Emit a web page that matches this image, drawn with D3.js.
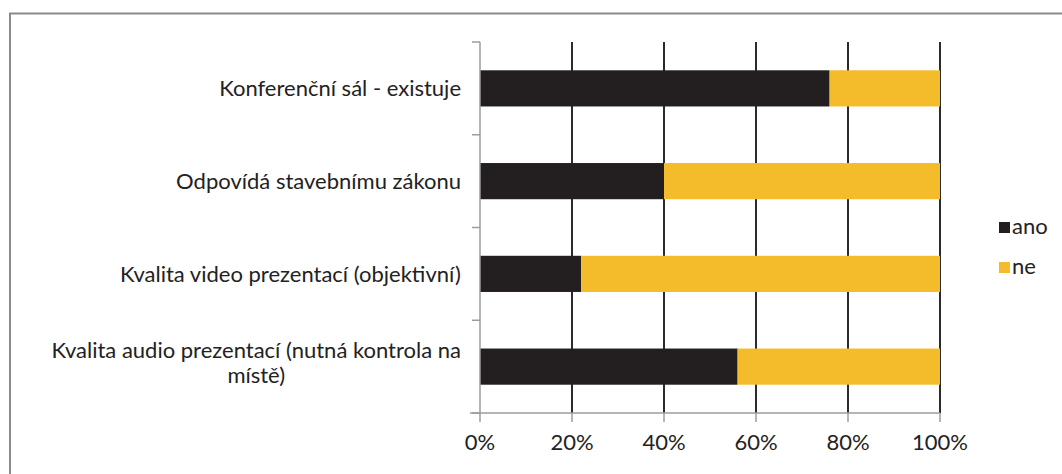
<!DOCTYPE html>
<html>
<head>
<meta charset="utf-8">
<script src="https://cdn.jsdelivr.net/npm/d3@7"></script>
<style>
  body { margin: 0; background: #fff; }
  svg text { font-family: Lato, "Open Sans", sans-serif; fill: #222; }
</style>
</head>
<body>
<div id="chart"></div>
<script>
// data
const categories = [
    "Konferenční sál - existuje",
    "Odpovídá stavebnímu zákonu",
    "Kvalita video prezentací (objektivní)",
    "Kvalita audio prezentací (nutná kontrola na|místě)"
];
const ano = [0.76, 0.40, 0.22, 0.56];
const ne = [0.24, 0.60, 0.78, 0.44];
const seriesNames = ["ano", "ne"];
const seriesColors = ["#231f20", "#f4bc2a"];
const xTicks = [0, 0.2, 0.4, 0.6, 0.8, 1];

const width = 1062, height = 474;
const margin = {top: 42, left: 480, right: 122, bottom: 61};
const fontSize = 22;

const svg = d3.select("#chart").append("svg")
    .attr("width", width)
    .attr("height", height);

// outer frame (cropped on right and bottom)
svg.append("path")
    .attr("d", "M10," + (height + 5) + "V13.5H" + (width + 5))
    .attr("fill", "none")
    .attr("stroke", "#8a8a8e")
    .attr("stroke-width", 2);

let x = d3.scaleLinear().domain([0, 1]).range([margin.left, width - margin.right]);
let y = d3.scaleBand().domain(categories).range([margin.top, height - margin.bottom])
    .paddingInner(0.61).paddingOuter(0.305);

// gridlines
svg.append("g").selectAll("line")
  .data(xTicks.slice(1))
  .join("line")
    .attr("x1", d => x(d)).attr("x2", d => x(d))
    .attr("y1", margin.top).attr("y2", height - margin.bottom)
    .attr("stroke", "#2b2b2b")
    .attr("stroke-width", 2);

// stacked bars
let stackData = categories.map((c, i) => ({cat: c, ano: ano[i], ne: ne[i]}));
let stacked = d3.stack().keys(seriesNames)(stackData);

svg.append("g").selectAll("g")
  .data(stacked)
  .join("g")
    .attr("fill", (d, i) => seriesColors[i])
  .selectAll("rect")
  .data(d => d)
  .join("rect")
    .attr("x", d => x(d[0]))
    .attr("width", d => x(d[1]) - x(d[0]))
    .attr("y", d => y(d.data.cat))
    .attr("height", y.bandwidth());

// category axis
let band = (height - margin.bottom - margin.top) / categories.length;
let catAxis = svg.append("g");
catAxis.append("line")
    .attr("x1", margin.left).attr("x2", margin.left)
    .attr("y1", margin.top).attr("y2", height - margin.bottom)
    .attr("stroke", "#9d9d9d").attr("stroke-width", 1.5);
catAxis.selectAll(".ctick")
  .data(d3.range(categories.length + 1))
  .join("line")
    .attr("class", "ctick")
    .attr("x1", margin.left - 8).attr("x2", margin.left)
    .attr("y1", d => margin.top + d * band).attr("y2", d => margin.top + d * band)
    .attr("stroke", "#9d9d9d").attr("stroke-width", 1.5);

// category labels
let labelRight = margin.left - 19;
categories.forEach(function(c) {
    let lines = c.split("|");
    let cy = y(c) + y.bandwidth() / 2;
    if (lines.length == 1) {
        svg.append("text")
            .attr("x", labelRight)
            .attr("y", cy + 8)
            .attr("text-anchor", "end")
            .attr("font-size", fontSize)
            .text(lines[0]);
    } else {
        let g = svg.append("g");
        let t = g.selectAll("text")
          .data(lines)
          .join("text")
            .attr("y", (d, i) => cy - 9 + i * 25)
            .attr("text-anchor", "middle")
            .attr("font-size", fontSize)
            .text(d => d);
        let w = d3.max(t.nodes(), n => n.getComputedTextLength());
        t.attr("x", labelRight - w / 2);
    }
});

// value axis
let xAxis = svg.append("g")
    .attr("transform", "translate(0," + (height - margin.bottom) + ")");
xAxis.append("line")
    .attr("x1", margin.left - 10).attr("x2", x(1))
    .attr("stroke", "#9d9d9d").attr("stroke-width", 1.5);
xAxis.selectAll(".xtick")
  .data(xTicks)
  .join("line")
    .attr("class", "xtick")
    .attr("x1", d => x(d)).attr("x2", d => x(d))
    .attr("y1", 0).attr("y2", 9)
    .attr("stroke", "#9d9d9d").attr("stroke-width", 1.5);
xAxis.selectAll(".xlabel")
  .data(xTicks)
  .join("text")
    .attr("class", "xlabel")
    .attr("x", d => x(d))
    .attr("y", 37)
    .attr("text-anchor", "middle")
    .attr("font-size", fontSize)
    .text(d3.format(".0%"));

// legend
let legend = svg.append("g").selectAll("g")
  .data(seriesNames)
  .join("g")
    .attr("transform", (d, i) => "translate(999," + (222 + i * 40) + ")");
legend.append("rect")
    .attr("width", 11).attr("height", 11)
    .attr("fill", (d, i) => seriesColors[i]);
legend.append("text")
    .attr("x", 13).attr("y", 12)
    .attr("font-size", fontSize)
    .text(d => d);
</script>
</body>
</html>
